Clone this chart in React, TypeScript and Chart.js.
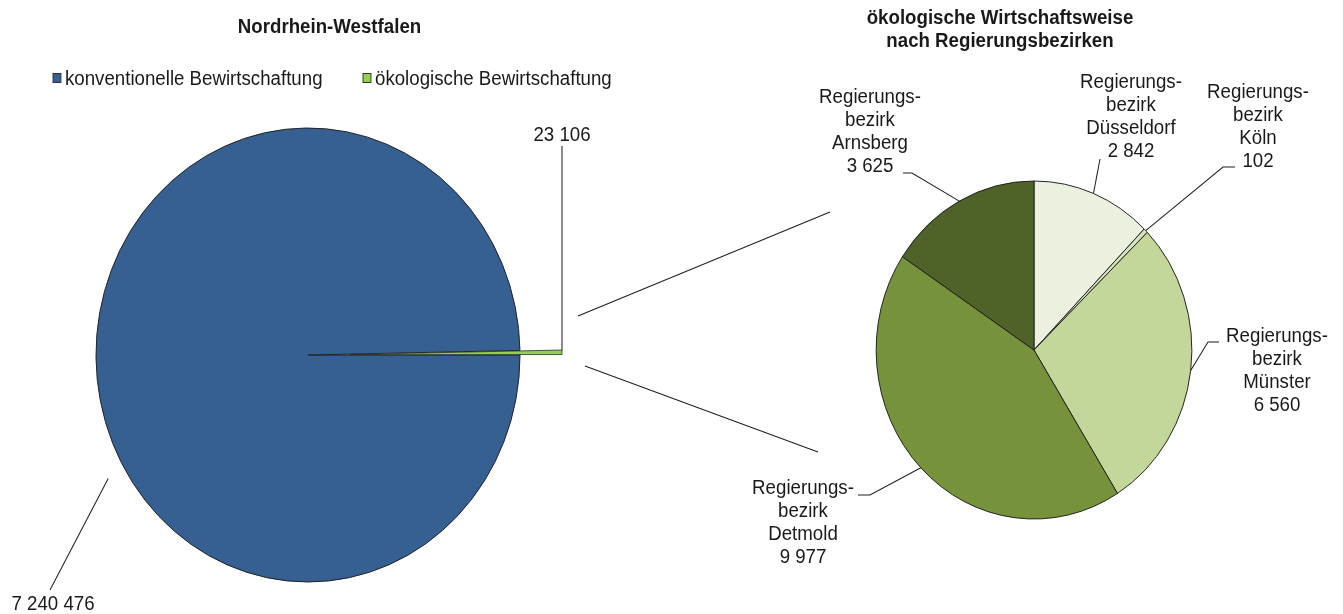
import React, { useEffect, useRef } from 'react';
import { Chart, registerables } from 'chart.js';

Chart.register(...registerables);

const W = 1343;
const H = 614;
// the reference is horizontally squeezed (circles are ellipses, text is narrow)
const SX = 0.934;
const FONT = '"Liberation Sans", Arial, Helvetica, sans-serif';
const INK = '#1a1a1a';
const LINE = '#1e1e1e';

// ---------- data ----------
const nrwTitle = 'Nordrhein-Westfalen';
const nrwCategories = ['konventionelle Bewirtschaftung', 'ökologische Bewirtschaftung'];
const nrwValues = [7240476, 23106];
const nrwColors = ['#376092', '#92d050'];

const rbTitle = ['ökologische Wirtschaftsweise', 'nach Regierungsbezirken'];
const rbCategories = ['Düsseldorf', 'Köln', 'Münster', 'Detmold', 'Arnsberg'];
const rbValues = [2842, 102, 6560, 9977, 3625];
const rbColors = ['#ebf1de', '#d7e4bd', '#c4d79b', '#76933c', '#4f6228'];
const rbPrefix = ['Regierungs-', 'bezirk'];

// ---------- layout (page px) ----------
const leftPie = { x: 308, y: 355, r: 227 };
const rightPie = { x: 1034, y: 350, r: 169 };
const EXPLODE = 45; // distance the small slice is pulled out
const legendX = [53, 363];
const legendY = 78;
const rbLabelPos = [
  { cx: 1131, y: 82, elbow: [1100, 159], end: [1100, 159] },
  { cx: 1258, y: 92, elbow: [1223, 167], end: [1235, 167] },
  { cx: 1277, y: 336, elbow: [1208, 342], end: [1219, 342] },
  { cx: 803, y: 488, elbow: [870, 495], end: [858, 495] },
  { cx: 870, y: 97, elbow: [912, 173], end: [903, 173] },
];
const LH = 23;

const L = (x: number) => x / SX;
const fmt = (v: number) => String(v).replace(/\B(?=(\d{3})+(?!\d))/g, ' ');

function squeezeStart(chart: any) {
  const ctx = chart.ctx;
  const r = chart.currentDevicePixelRatio || 1;
  ctx.save();
  ctx.setTransform(SX * r, 0, 0, r, 0, 0);
}

function line(ctx: CanvasRenderingContext2D, pts: number[][]) {
  ctx.beginPath();
  ctx.moveTo(pts[0][0], pts[0][1]);
  for (let i = 1; i < pts.length; i++) ctx.lineTo(pts[i][0], pts[i][1]);
  ctx.stroke();
}

const leftDecor = {
  id: 'leftDecor',
  afterDatasetUpdate(chart: any, args: any) {
    // pull the small slice out of the pie
    const el: any = args.meta.data[1];
    if (!el) return;
    const mid = (el.startAngle + el.endAngle) / 2;
    el.x += Math.cos(mid) * EXPLODE;
    el.y += Math.sin(mid) * EXPLODE;
  },
  beforeDraw: squeezeStart,
  afterDraw(chart: any) {
    const ctx: CanvasRenderingContext2D = chart.ctx;
    ctx.fillStyle = INK;
    ctx.strokeStyle = LINE;
    ctx.lineWidth = 1.1;
    ctx.textBaseline = 'middle';

    // title
    ctx.textAlign = 'center';
    ctx.font = `bold 20px ${FONT}`;
    ctx.fillText(nrwTitle, L(329.5), 27);

    // legend
    ctx.font = `20px ${FONT}`;
    ctx.textAlign = 'left';
    nrwCategories.forEach((name, i) => {
      const x = L(legendX[i]);
      ctx.fillStyle = nrwColors[i];
      ctx.fillRect(x, legendY - 4.5, 8.5, 9);
      ctx.strokeStyle = '#333';
      ctx.lineWidth = 1;
      ctx.strokeRect(x, legendY - 4.5, 8.5, 9);
      ctx.fillStyle = INK;
      ctx.fillText(name, x + L(12), legendY + 1);
    });
    ctx.lineWidth = 1.1;

    const meta = chart.getDatasetMeta(0);
    const g: any = meta.data[1];
    const tx = g.x + Math.cos(g.startAngle) * g.outerRadius;
    const ty = g.y + Math.sin(g.startAngle) * g.outerRadius;

    ctx.strokeStyle = LINE;
    // value label of the small slice
    line(ctx, [[tx, 146], [tx, ty]]);
    ctx.textAlign = 'center';
    ctx.fillStyle = INK;
    ctx.fillText(fmt(nrwValues[1]), tx, 135);

    // value label of the big slice
    const b: any = meta.data[0];
    const a = (150 * Math.PI) / 180;
    const bx = b.x + Math.cos(a) * (b.outerRadius + 20);
    const by = b.y + Math.sin(a) * (b.outerRadius + 20);
    line(ctx, [[bx, by], [L(50), 590]]);
    ctx.fillText(fmt(nrwValues[0]), L(53), 604);

    // connector towards the second pie
    line(ctx, [[tx + L(16), ty - 34], [L(830), 212]]);
    line(ctx, [[tx + L(23), ty + 16], [L(818), 452]]);

    ctx.restore();
  },
};

const rightDecor = {
  id: 'rightDecor',
  beforeDraw: squeezeStart,
  afterDraw(chart: any) {
    const ctx: CanvasRenderingContext2D = chart.ctx;
    ctx.fillStyle = INK;
    ctx.strokeStyle = LINE;
    ctx.lineWidth = 1.1;
    ctx.textBaseline = 'middle';
    ctx.textAlign = 'center';

    ctx.font = `bold 20px ${FONT}`;
    rbTitle.forEach((t, i) => ctx.fillText(t, L(1000), 18 + i * LH));

    ctx.font = `20px ${FONT}`;
    const meta = chart.getDatasetMeta(0);
    rbCategories.forEach((name, i) => {
      const el: any = meta.data[i];
      const mid = (el.startAngle + el.endAngle) / 2;
      const ex = el.x + Math.cos(mid) * el.outerRadius;
      const ey = el.y + Math.sin(mid) * el.outerRadius;
      const pos = rbLabelPos[i];
      line(ctx, [[ex, ey], [L(pos.elbow[0]), pos.elbow[1]], [L(pos.end[0]), pos.end[1]]]);
      const lines = [...rbPrefix, name, fmt(rbValues[i])];
      lines.forEach((t, k) => ctx.fillText(t, L(pos.cx), pos.y + k * LH));
    });

    ctx.restore();
  },
};

export default function App() {
  const leftRef = useRef<HTMLCanvasElement>(null);
  const rightRef = useRef<HTMLCanvasElement>(null);

  useEffect(() => {
    const lcx = L(leftPie.x);
    const left = new Chart(leftRef.current as HTMLCanvasElement, {
      type: 'pie',
      data: {
        labels: nrwCategories,
        datasets: [
          {
            data: nrwValues,
            backgroundColor: nrwColors,
            borderColor: ['#1f1f1f', '#2a2a2a'],
            borderWidth: [1, 0.8],
            radius: leftPie.r,
            clip: false,
          } as any,
        ],
      },
      options: {
        responsive: false,
        animation: false,
        events: [],
        rotation: 90,
        layout: {
          padding: { left: 0, right: W - 2 * lcx, top: 2 * leftPie.y - H, bottom: 0 },
        },
        plugins: {
          legend: { display: false },
          title: { display: false },
          tooltip: { enabled: false },
        },
      },
      plugins: [leftDecor],
    });

    const rcx = L(rightPie.x);
    const right = new Chart(rightRef.current as HTMLCanvasElement, {
      type: 'pie',
      data: {
        labels: rbCategories,
        datasets: [
          {
            data: rbValues,
            backgroundColor: rbColors,
            borderColor: '#1f1f1f',
            borderWidth: 1,
            radius: rightPie.r,
            clip: false,
          } as any,
        ],
      },
      options: {
        responsive: false,
        animation: false,
        events: [],
        rotation: 0,
        layout: {
          padding: { left: 2 * rcx - W, right: 0, top: 2 * rightPie.y - H, bottom: 0 },
        },
        plugins: {
          legend: { display: false },
          title: { display: false },
          tooltip: { enabled: false },
        },
      },
      plugins: [rightDecor],
    });

    return () => {
      left.destroy();
      right.destroy();
    };
  }, []);

  return (
    <div style={{ position: 'absolute', left: 0, top: 0, width: W, height: H, background: '#fff' }}>
      <canvas ref={leftRef} width={W} height={H} style={{ position: 'absolute', left: 0, top: 0 }} />
      <canvas ref={rightRef} width={W} height={H} style={{ position: 'absolute', left: 0, top: 0 }} />
    </div>
  );
}
